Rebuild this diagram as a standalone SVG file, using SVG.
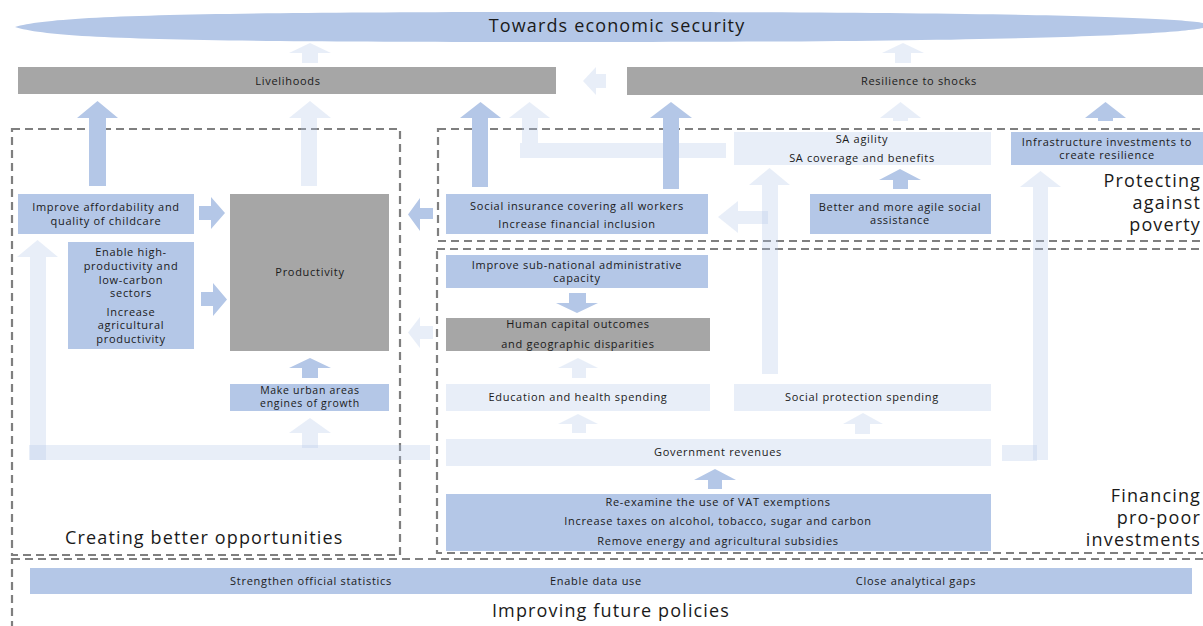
<svg xmlns="http://www.w3.org/2000/svg" width="1203" height="626" viewBox="0 0 1203 626">
<style>
.blue{fill:#B4C7E7}
.light{fill:#B4C7E7;fill-opacity:0.3}
.gray{fill:#A6A6A6}
.dash{fill:none;stroke:#7F7F7F;stroke-width:2.2;stroke-dasharray:8 5}
text{font-family:"Open Sans","Noto Sans",sans-serif;fill:#1a1a1a}
.s{font-size:11px;letter-spacing:0.7px;text-anchor:middle}
.t{font-size:18px;letter-spacing:1.15px}
.m{text-anchor:middle}
.e{text-anchor:end}
</style>
<rect width="1203" height="626" fill="#ffffff"/>

<g id="sections">
<rect class="dash" x="12" y="129" width="388" height="426"/>
<rect class="dash" x="438" y="129" width="780" height="112"/>
<rect class="dash" x="437" y="249" width="780" height="304"/>
<rect class="dash" x="12" y="559" width="1206" height="90"/>
<text class="t" x="65" y="544">Creating better opportunities</text>
<text class="t e" x="1201" y="187">Protecting</text>
<text class="t e" x="1201" y="209">against</text>
<text class="t e" x="1201" y="231">poverty</text>
<text class="t e" x="1201" y="502">Financing</text>
<text class="t e" x="1201" y="524">pro-poor</text>
<text class="t e" x="1201" y="546">investments</text>
<text class="t m" x="611" y="617">Improving future policies</text>
</g>

<g id="connectors">
<!-- top arrows to goal -->
<polygon class="light" points="289,53 310,43 331,53 318,53 318,63 302,63 302,53"/>
<polygon class="light" points="882,53 903,43 924,53 911,53 911,63 895,63 895,53"/>
<!-- resilience to livelihoods -->
<polygon class="light" points="583,81 596,67 596,74 606,74 606,88 596,88 596,95"/>
<!-- to livelihoods -->
<polygon class="blue" points="77,118 97.5,101 118,118 106,118 106,186 89,186 89,118"/>
<polygon class="light" points="289,118 310,101 331,118 317,118 317,186 301,186 301,118"/>
<polygon class="blue" points="460,118 480.5,102 501,118 488,118 488,187 472,187 472,118"/>
<polygon class="light" points="509,118 529.5,102 550,118 538,118 538,143 522,143 522,118"/>
<rect class="light" x="520" y="143" width="206" height="15"/>
<!-- to resilience -->
<polygon class="blue" points="650,118 671,102 692,118 679,118 679,189 663,189 663,118"/>
<polygon class="light" points="880,118 900.5,102 921,118 908,118 908,121 893,121 893,118"/>
<polygon class="blue" points="1085,118 1105.5,102 1126,118 1113,118 1113,121 1098,121 1098,118"/>
<!-- childcare / enable to productivity -->
<polygon class="blue" points="199,206 211,206 211,197 225,213 211,229 211,220 199,220"/>
<polygon class="blue" points="201,292 213,292 213,283 227,299.5 213,316 213,306 201,306"/>
<!-- social insurance to productivity -->
<polygon class="blue" points="408,214.5 420,198 420,208 433,208 433,219 420,219 420,231"/>
<!-- human capital to productivity -->
<polygon class="light" points="408,332.5 420,317 420,326 433,326 433,339 420,339 420,348"/>
<!-- urban to productivity -->
<polygon class="blue" points="289,368 310,358 331,368 318,368 318,378 302,378 302,368"/>
<polygon class="light" points="289,433 310,418 331,433 318,433 318,448 302,448 302,433"/>
<!-- left loop -->
<rect class="light" x="29" y="445" width="401" height="15"/>
<polygon class="light" points="17,257 37.5,240 58,257 46,257 46,460 30,460 30,257"/>
<!-- better to social insurance -->
<polygon class="light" points="718,217 738,201 738,211 768,211 768,224 738,224 738,233"/>
<!-- better to SA -->
<polygon class="blue" points="879,180 900,169 921,180 908,180 908,189 893,189 893,180"/>
<!-- social protection to SA -->
<polygon class="light" points="749,185 769.5,168 790,185 778,185 778,374 762,374 762,185"/>
<!-- gov revenues to infrastructure -->
<rect class="light" x="1002" y="445" width="35" height="16"/>
<polygon class="light" points="1020,187 1040.5,171 1061,187 1048,187 1048,460 1033,460 1033,187"/>
<!-- sub-national to human capital -->
<polygon class="blue" points="569,293 586,293 586,303 598,303 577,313 556,303 569,303"/>
<!-- education to human capital -->
<polygon class="light" points="558,368 578,358 598,368 586,368 586,378 572,378 572,368"/>
<polygon class="light" points="558,424 578,414 598,424 586,424 586,433 572,433 572,424"/>
<polygon class="light" points="843,424 863,413 883,424 870,424 870,434 855,434 855,424"/>
<!-- taxes to revenues -->
<polygon class="blue" points="694,480 715,469 736,480 722,480 722,489 708,489 708,480"/>
</g>

<g id="goal">
<path class="blue" d="M15,27 C55,15 200,12 610,12 C1000,12 1170,17 1203,23 L1203,28 C1170,35 1000,42 610,42 C200,42 55,40 15,27 Z"/>
<text class="t m" x="617" y="32">Towards economic security</text>
</g>

<g id="livelihoods">
<rect class="gray" x="18" y="67" width="538" height="27"/>
<text class="s" x="288" y="84.5">Livelihoods</text>
</g>
<g id="resilience">
<rect class="gray" x="627" y="67" width="576" height="28"/>
<text class="s" x="919" y="85">Resilience to shocks</text>
</g>

<g id="childcare">
<rect class="blue" x="18" y="194" width="176" height="40"/>
<text class="s" x="106" y="211">Improve affordability and</text>
<text class="s" x="106" y="225">quality of childcare</text>
</g>
<g id="enable">
<rect class="blue" x="68" y="242" width="126" height="107"/>
<text class="s" x="131" y="256">Enable high-</text>
<text class="s" x="131" y="270">productivity and</text>
<text class="s" x="131" y="283.5">low-carbon</text>
<text class="s" x="131" y="297">sectors</text>
<text class="s" x="131" y="315.5">Increase</text>
<text class="s" x="131" y="329">agricultural</text>
<text class="s" x="131" y="342.5">productivity</text>
</g>
<g id="productivity">
<rect class="gray" x="230" y="194" width="159" height="157"/>
<text class="s" x="310" y="276">Productivity</text>
</g>
<g id="urban">
<rect class="blue" x="230" y="384" width="159" height="27"/>
<text class="s" x="310" y="394" style="font-size:10.5px">Make urban areas</text>
<text class="s" x="310" y="407" style="font-size:10.5px">engines of growth</text>
</g>

<g id="social-insurance">
<rect class="blue" x="446" y="194" width="262" height="40"/>
<text class="s" x="577" y="209.5">Social insurance covering all workers</text>
<text class="s" x="577" y="227.5">Increase financial inclusion</text>
</g>
<g id="sa">
<rect class="light" x="734" y="132" width="257" height="33"/>
<text class="s" x="862" y="142.5">SA agility</text>
<text class="s" x="862" y="161.5">SA coverage and benefits</text>
</g>
<g id="better-sa">
<rect class="blue" x="810" y="194" width="181" height="40"/>
<text class="s" x="900" y="210.5">Better and more agile social</text>
<text class="s" x="900" y="223.5">assistance</text>
</g>
<g id="infrastructure">
<rect class="blue" x="1011" y="132" width="192" height="33"/>
<text class="s" x="1107" y="145.5">Infrastructure investments to</text>
<text class="s" x="1107" y="158.5">create resilience</text>
</g>

<g id="subnational">
<rect class="blue" x="446" y="255" width="262" height="33"/>
<text class="s" x="577" y="268.5">Improve sub-national administrative</text>
<text class="s" x="577" y="281.5">capacity</text>
</g>
<g id="human-capital">
<rect class="gray" x="446" y="318" width="264" height="33"/>
<text class="s" x="578" y="327.5">Human capital outcomes</text>
<text class="s" x="578" y="347.5">and geographic disparities</text>
</g>
<g id="education">
<rect class="light" x="446" y="384" width="264" height="27"/>
<text class="s" x="578" y="401">Education and health spending</text>
</g>
<g id="social-protection">
<rect class="light" x="734" y="384" width="257" height="27"/>
<text class="s" x="862" y="401">Social protection spending</text>
</g>
<g id="revenues">
<rect class="light" x="446" y="439" width="545" height="27"/>
<text class="s" x="718" y="456">Government revenues</text>
</g>
<g id="taxes">
<rect class="blue" x="446" y="494" width="545" height="57"/>
<text class="s" x="718" y="506">Re-examine the use of VAT exemptions</text>
<text class="s" x="718" y="525">Increase taxes on alcohol, tobacco, sugar and carbon</text>
<text class="s" x="718" y="545">Remove energy and agricultural subsidies</text>
</g>

<g id="policies">
<rect class="blue" x="30" y="568" width="1162" height="26"/>
<text class="s" x="311" y="585">Strengthen official statistics</text>
<text class="s" x="596" y="585">Enable data use</text>
<text class="s" x="916" y="585">Close analytical gaps</text>
</g>
</svg>
